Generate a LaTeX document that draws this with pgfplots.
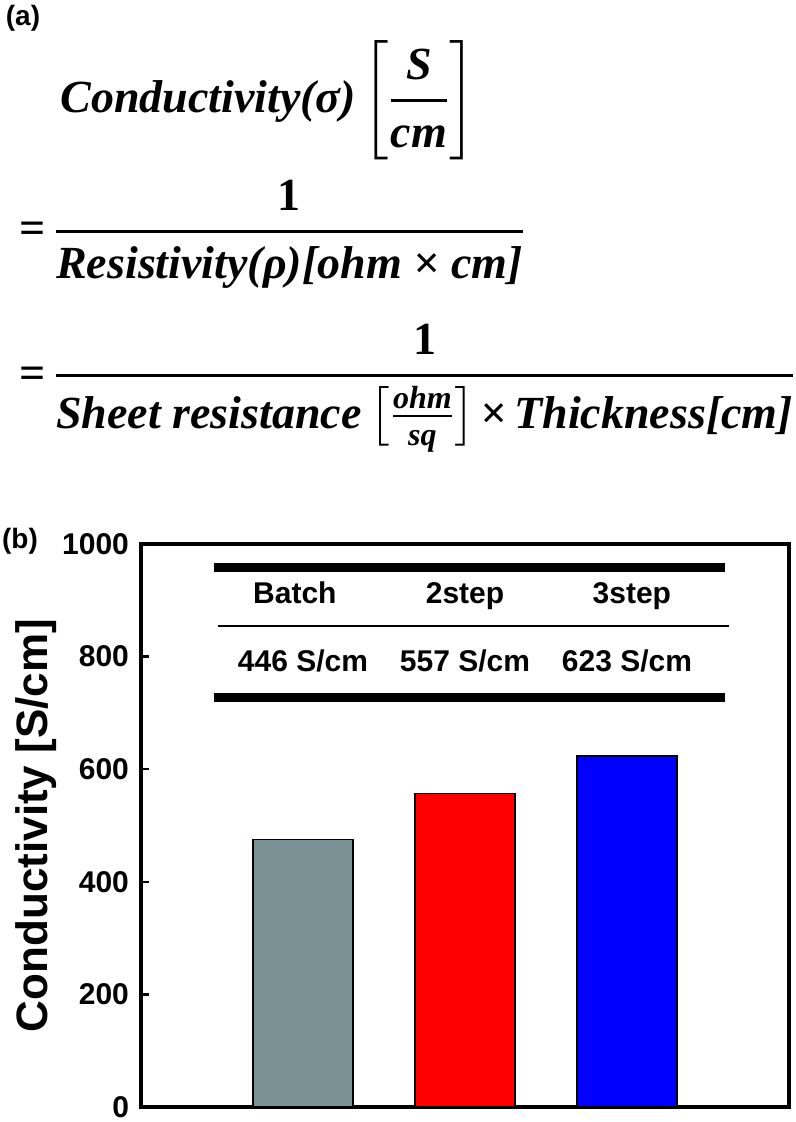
\documentclass[border=0pt]{standalone}
\usepackage{amsmath}
\usepackage{fontspec}
\setmainfont{Liberation Serif}
\newfontfamily\arialfont{Liberation Sans}
\usepackage{pgfplots}
\pgfplotsset{compat=1.18}

\definecolor{batchgray}{RGB}{122,145,148}
\definecolor{stepred}{RGB}{255,0,0}
\definecolor{stepblue}{RGB}{0,0,255}

\begin{document}
\begin{tikzpicture}
\path[use as bounding box] (0,0) rectangle (398pt,-561pt);

% (a) the formula
\node[font=\arialfont\bfseries\fontsize{14}{14}\selectfont] at (11.5pt,-9pt) {(a)};
\begin{scope}[every node/.style={inner sep=0pt, font=\bfseries\itshape\fontsize{23}{27}\selectfont}]
  \node[anchor=base west] at (30pt,-56.5pt)
    {Conductivity(σ)\hspace{3pt}$\biggl[\genfrac{}{}{1.2pt}{0}{\text{S}}{\text{cm}}\biggr]$};
  \node[anchor=base west] at (9.5pt,-122pt)
    {$\text{\upshape =}\,\genfrac{}{}{1.5pt}{0}{\text{\upshape 1}}{\text{Resistivity(ρ)[ohm × cm]}}$};
  \node[anchor=base west] at (9.5pt,-194pt)
    {$\text{\upshape =}\,\genfrac{}{}{1.5pt}{0}{\text{\upshape 1}}{\text{Sheet resistance}\,\bigl[\genfrac{}{}{1.2pt}{1}{\text{\fontsize{16}{16}\selectfont ohm}}{\text{\fontsize{16}{16}\selectfont sq}}\bigr]\mkern2mu\text{×\,Thickness[cm]}}$};
\end{scope}

% (b) the bar chart
\node[font=\arialfont\bfseries\fontsize{14}{14}\selectfont] at (10pt,-270.5pt) {(b)};
\begin{axis}[
    at={(70.5pt,-553.5pt)}, anchor=south west,
    scale only axis, width=324pt, height=281.5pt,
    xmin=0, xmax=4, ymin=0, ymax=1000,
    ybar, bar width=50pt, bar shift=0pt,
    xtick={1,2,3}, xticklabels={,,},
    ytick={0,200,...,1000},
    xtick pos=bottom, ytick pos=left,
    tick align=inside, major tick length=4pt,
    tick style={black, line width=1.2pt},
    axis line style={line width=2.2pt},
    /pgf/number format/1000 sep={},
    /pgf/number format/assume math mode=true,
    yticklabel style={font=\arialfont\bfseries\fontsize{15}{15}\selectfont, xshift=-2.5pt},
    ylabel={Conductivity [S/cm]},
    ylabel style={font=\arialfont\bfseries\fontsize{22}{22}\selectfont,
                  at={(axis description cs:-0.145,0.5)}, anchor=base},
    clip=false,
]
\addplot[fill=batchgray, draw=black, line width=0.8pt] coordinates {(1,475)};
\addplot[fill=stepred, draw=black, line width=0.8pt] coordinates {(2,557)};
\addplot[fill=stepblue, draw=black, line width=0.8pt] coordinates {(3,623)};

% table inside the plot
\draw[line width=4.5pt] (axis cs:0.45,959) -- (axis cs:3.605,959);
\draw[line width=1pt] (axis cs:0.475,854) -- (axis cs:3.63,854);
\draw[line width=4.5pt] (axis cs:0.45,728) -- (axis cs:3.605,728);
\begin{scope}[every node/.style={anchor=base, font=\arialfont\bfseries\fontsize{15}{15}\selectfont}]
  \node at (axis cs:0.95,895) {Batch};
  \node at (axis cs:2.0,895) {2step};
  \node at (axis cs:3.03,895) {3step};
  \node at (axis cs:1.0,773) {446 S/cm};
  \node at (axis cs:2.0,773) {557 S/cm};
  \node at (axis cs:3.0,773) {623 S/cm};
\end{scope}
\end{axis}
\end{tikzpicture}
\end{document}
